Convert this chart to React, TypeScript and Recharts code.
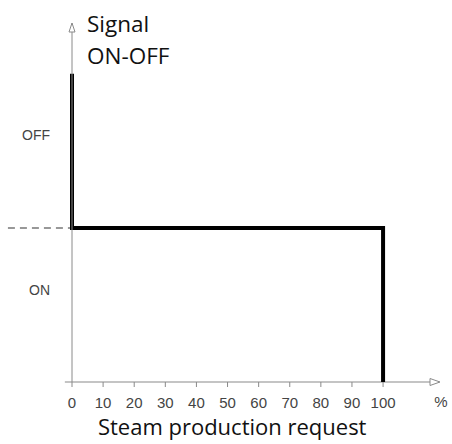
import { LineChart, Line, XAxis, YAxis, ReferenceLine, ReferenceDot } from 'recharts'

// step response: signal level vs steam production request (%)
const requestPct = [0, 0, 100, 100]
const signalLevel = [2, 1, 1, 0]
const xTicks = [0, 10, 20, 30, 40, 50, 60, 70, 80, 90, 100]
const levelTicks = [0.6, 1.6]
const levelNames = ['ON', 'OFF']
const switchLevel = 1
const xTitle = 'Steam production request'
const yTitle = ['Signal', 'ON-OFF']
const xUnit = '%'

const X_MIN_AXIS = -2.3
const X_DASH_START = -20.6
const X_MAX = 118.3
const Y_MAX = 2.33

const data = requestPct.map((x, i) => ({ x, level: signalLevel[i] }))

const AXIS = '#8a8a8a'
const TICK_FONT = '"Liberation Sans", Arial, sans-serif'
const TITLE_FONT = '"Open Sans", Lato, sans-serif'

function XArrow({ cx, cy }: any) {
  return (
    <g>
      <path d={`M${cx - 10},${cy - 3.5} L${cx},${cy} L${cx - 10},${cy + 3.5} Z`} fill="#fff" stroke={AXIS} strokeWidth={1} />
      <text x={cx + 1} y={cy + 25} textAnchor="middle" fontSize={15} fill="#444" fontFamily={TICK_FONT}>{xUnit}</text>
    </g>
  )
}

function YArrow({ cx, cy }: any) {
  return (
    <g>
      <path d={`M${cx - 3},${cy + 9} L${cx},${cy} L${cx + 3},${cy + 9} Z`} fill="#fff" stroke={AXIS} strokeWidth={1} />
      <text x={cx + 15} y={cy + 9} fontSize={22.5} fill="#111" fontFamily={TITLE_FONT}>{yTitle[0]}</text>
      <text x={cx + 15} y={cy + 41} fontSize={22.5} fill="#111" fontFamily={TITLE_FONT}>{yTitle[1]}</text>
    </g>
  )
}

export default function App() {
  return (
    <div style={{ position: 'absolute', left: 0, top: 0, background: '#fff' }}>
      <LineChart width={452} height={444} data={data} margin={{ top: 23, right: 12, left: 0, bottom: 0 }}>
        <XAxis
          dataKey="x"
          type="number"
          domain={[0, X_MAX]}
          ticks={xTicks}
          axisLine={false}
          tickSize={5}
          tickMargin={10}
          tickLine={{ stroke: AXIS }}
          tick={{ fontSize: 15, fill: '#444', fontFamily: TICK_FONT }}
          height={62}
          label={{
            content: ({ viewBox }: any) => (
              <text x={viewBox.x + viewBox.width * (51.5 / X_MAX)} y={viewBox.y + 53} textAnchor="middle" fontSize={22} fill="#111" fontFamily={TITLE_FONT}>{xTitle}</text>
            ),
          }}
        />
        <YAxis
          type="number"
          domain={[0, Y_MAX]}
          ticks={levelTicks}
          tickFormatter={(v: number) => levelNames[levelTicks.indexOf(v)]}
          axisLine={{ stroke: AXIS }}
          tickLine={false}
          tickSize={0}
          tickMargin={22}
          tick={{ fontSize: 14, fill: '#444', fontFamily: TICK_FONT }}
          width={72}
        />
        <ReferenceLine segment={[{ x: X_MIN_AXIS, y: 0 }, { x: X_MAX - 1.5, y: 0 }]} stroke={AXIS} strokeWidth={1.2} ifOverflow="visible" />
        <ReferenceLine segment={[{ x: X_DASH_START, y: switchLevel }, { x: 0, y: switchLevel }]} stroke="#777" strokeWidth={1.5} strokeDasharray="7 5" ifOverflow="visible" />
        <ReferenceDot x={X_MAX} y={0} r={0} shape={XArrow} ifOverflow="visible" />
        <ReferenceDot x={0} y={Y_MAX} r={0} shape={YArrow} ifOverflow="visible" />
        <Line type="linear" dataKey="level" stroke="#000" strokeWidth={4} dot={false} strokeLinejoin="miter" strokeLinecap="butt" isAnimationActive={false} />
      </LineChart>
    </div>
  )
}
